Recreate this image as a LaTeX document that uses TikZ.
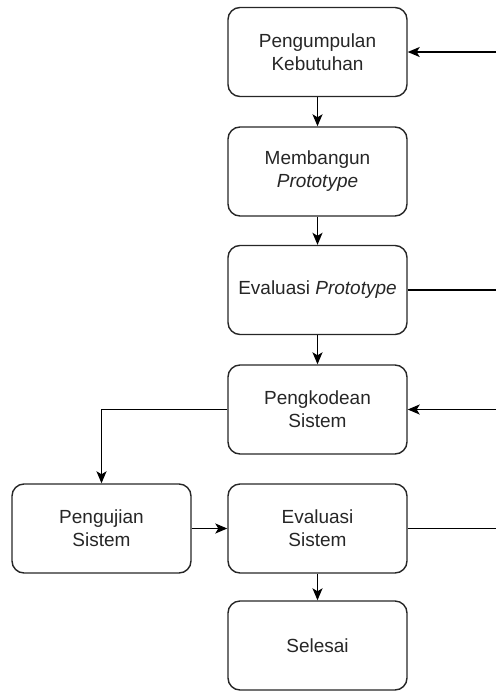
\documentclass[tikz,border=0pt]{standalone}
\usepackage{fontspec}
\setmainfont{Liberation Sans}
\usetikzlibrary{arrows.meta}
\begin{document}
\begin{tikzpicture}[x=1pt,y=-1pt,
  box/.style={draw=black!85, line width=1.4pt, rounded corners=12pt,
    minimum width=179pt, minimum height=89pt, align=center,
    font=\fontsize{19}{23}\selectfont, text=black!85},
  conn/.style={draw=black, line width=1.4pt},
  arr/.style={conn, -{Stealth[length=12pt,width=10pt,inset=3pt]}}]
\useasboundingbox (0,0) rectangle (496,691);
\node[box] (pk) at (317.5,52) {Pengumpulan\\Kebutuhan};
\node[box] (mp) at (317.5,171.5) {Membangun\\\textit{Prototype}};
\node[box] (ep) at (317.5,290) {Evaluasi \textit{Prototype}};
\node[box] (ks) at (317.5,409.5) {Pengkodean\\Sistem};
\node[box] (us) at (101.5,528.5) {Pengujian\\Sistem};
\node[box] (es) at (317.5,528.5) {Evaluasi\\Sistem};
\node[box] (sl) at (317.5,645.5) {Selesai};
\coordinate (r1) at (496,52);
\coordinate (r2) at (496,290);
\coordinate (r3) at (496,409.5);
\coordinate (r4) at (496,528.5);
\coordinate (bend) at (101.5,409.5);
\draw[arr] (pk) -- (mp);
\draw[arr] (mp) -- (ep);
\draw[arr] (ep) -- (ks);
\draw[arr] (ks.west) -- (bend) -- (us.north);
\draw[arr] (us) -- (es);
\draw[arr] (es) -- (sl);
\draw[arr] (r1) -- (pk.east);
\draw[conn] (ep.east) -- (r2);
\draw[arr] (r3) -- (ks.east);
\draw[conn] (es.east) -- (r4);
\end{tikzpicture}
\end{document}
